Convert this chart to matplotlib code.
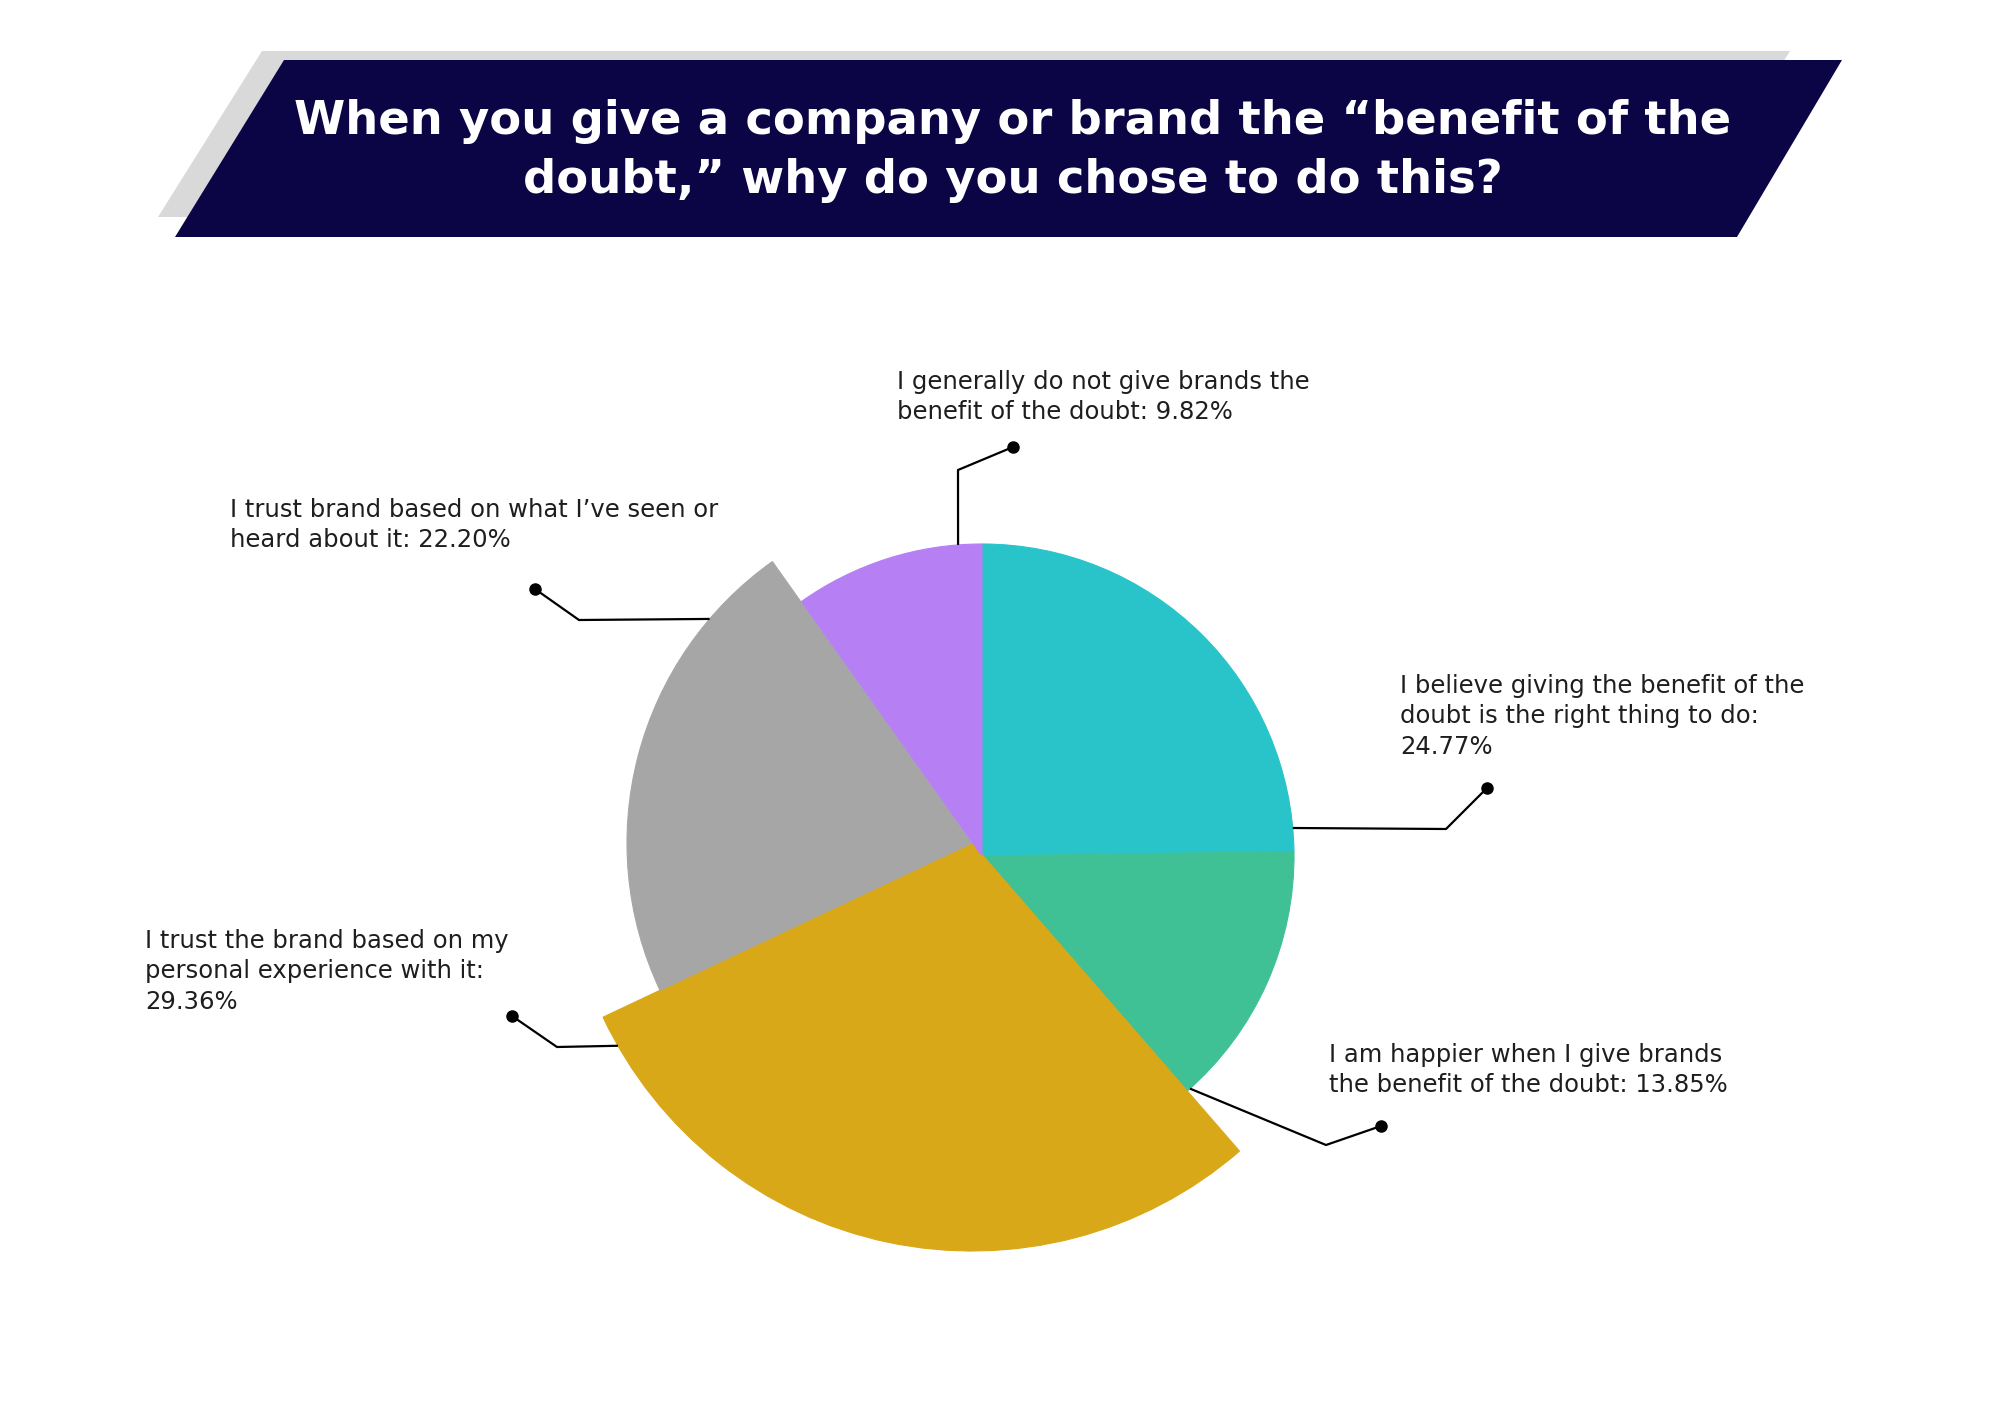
import numpy as np
import matplotlib
matplotlib.use("Agg")
import matplotlib.pyplot as plt
from matplotlib.patches import Wedge, Polygon

# survey answers, clockwise from 12 o'clock
labels = [
    "I believe giving the benefit of the\ndoubt is the right thing to do:\n24.77%",
    "I am happier when I give brands\nthe benefit of the doubt: 13.85%",
    "I trust the brand based on my\npersonal experience with it:\n29.36%",
    "I trust brand based on what I\u2019ve seen or\nheard about it: 22.20%",
    "I generally do not give brands the\nbenefit of the doubt: 9.82%",
]
shares = [24.77, 13.85, 29.36, 22.20, 9.82]
colors = ["#29c4ca", "#40c195", "#d9a818", "#a6a6a6", "#b67ff4"]

# per-slice radius and centre shift (px), as drawn in the original
radii = [312, 312, 408, 345, 312]
shift = [(0, 0), (0, 0), (-10, -13), (-10, -13), (0, 0)]
cx, cy = 982, 856

# label placement: text anchor (left, top), leader elbow, leader dot, angle on the arc
text_pos = [(1400, 674), (1329, 1043), (145, 929), (230, 498), (897, 370)]
elbow = [(1446, 829), (1326, 1145), (557, 1047), (579, 620), (958, 470)]
dot = [(1487, 788), (1381, 1126), (512, 1016), (535, 589), (1013, 447)]
hook = [84.85, 138.2, 240.2, 310.5, 355.6]

fig = plt.figure(figsize=(20, 14.25), dpi=100)
ax = fig.add_axes([0, 0, 1, 1])
ax.set_xlim(0, 2000)
ax.set_ylim(1425, 0)
ax.set_aspect("equal")
ax.axis("off")

# title banner
ax.add_patch(Polygon([(262, 51), (1790, 51), (1686, 217), (158, 217)], closed=True,
                     facecolor="#d9d9d9", edgecolor="none", zorder=1))
ax.add_patch(Polygon([(284, 60), (1842, 60), (1737, 237), (175, 237)], closed=True,
                     facecolor="#0b0545", edgecolor="none", zorder=2))
tfont = dict(family=["DejaVu Sans"], fontweight="bold", color="white",
             fontsize=33.5, ha="center", va="baseline", zorder=3)
ax.text(1013, 134, "When you give a company or brand the \u201cbenefit of the", **tfont)
ax.text(1013, 193, "doubt,\u201d why do you chose to do this?", **tfont)

# pie, y axis runs downward so increasing angle is clockwise on screen
start = -90.0
for i, v in enumerate(shares):
    sweep = v / sum(shares) * 360.0
    ox, oy = cx + shift[i][0], cy + shift[i][1]
    ax.add_patch(Wedge((ox, oy), radii[i], start, start + sweep,
                       facecolor=colors[i], edgecolor=colors[i], lw=0.8, zorder=4))
    start += sweep

lfont = dict(family=["DejaVu Sans"], fontweight="normal", color="#1e1e1e",
             fontsize=17.5, ha="left", va="top", linespacing=1.34, zorder=5)
for i in range(len(shares)):
    ox, oy = cx + shift[i][0], cy + shift[i][1]
    a = np.radians(hook[i] - 90)
    sx, sy = ox + radii[i] * np.cos(a), oy + radii[i] * np.sin(a)
    ax.plot([sx, elbow[i][0], dot[i][0]], [sy, elbow[i][1], dot[i][1]],
            color="black", lw=1.6, zorder=5, solid_capstyle="butt")
    ax.plot(dot[i][0], dot[i][1], "o", color="black", ms=8, zorder=6)
    ax.text(text_pos[i][0], text_pos[i][1], labels[i], **lfont)

fig.savefig("out.png", dpi=100, facecolor="white")
